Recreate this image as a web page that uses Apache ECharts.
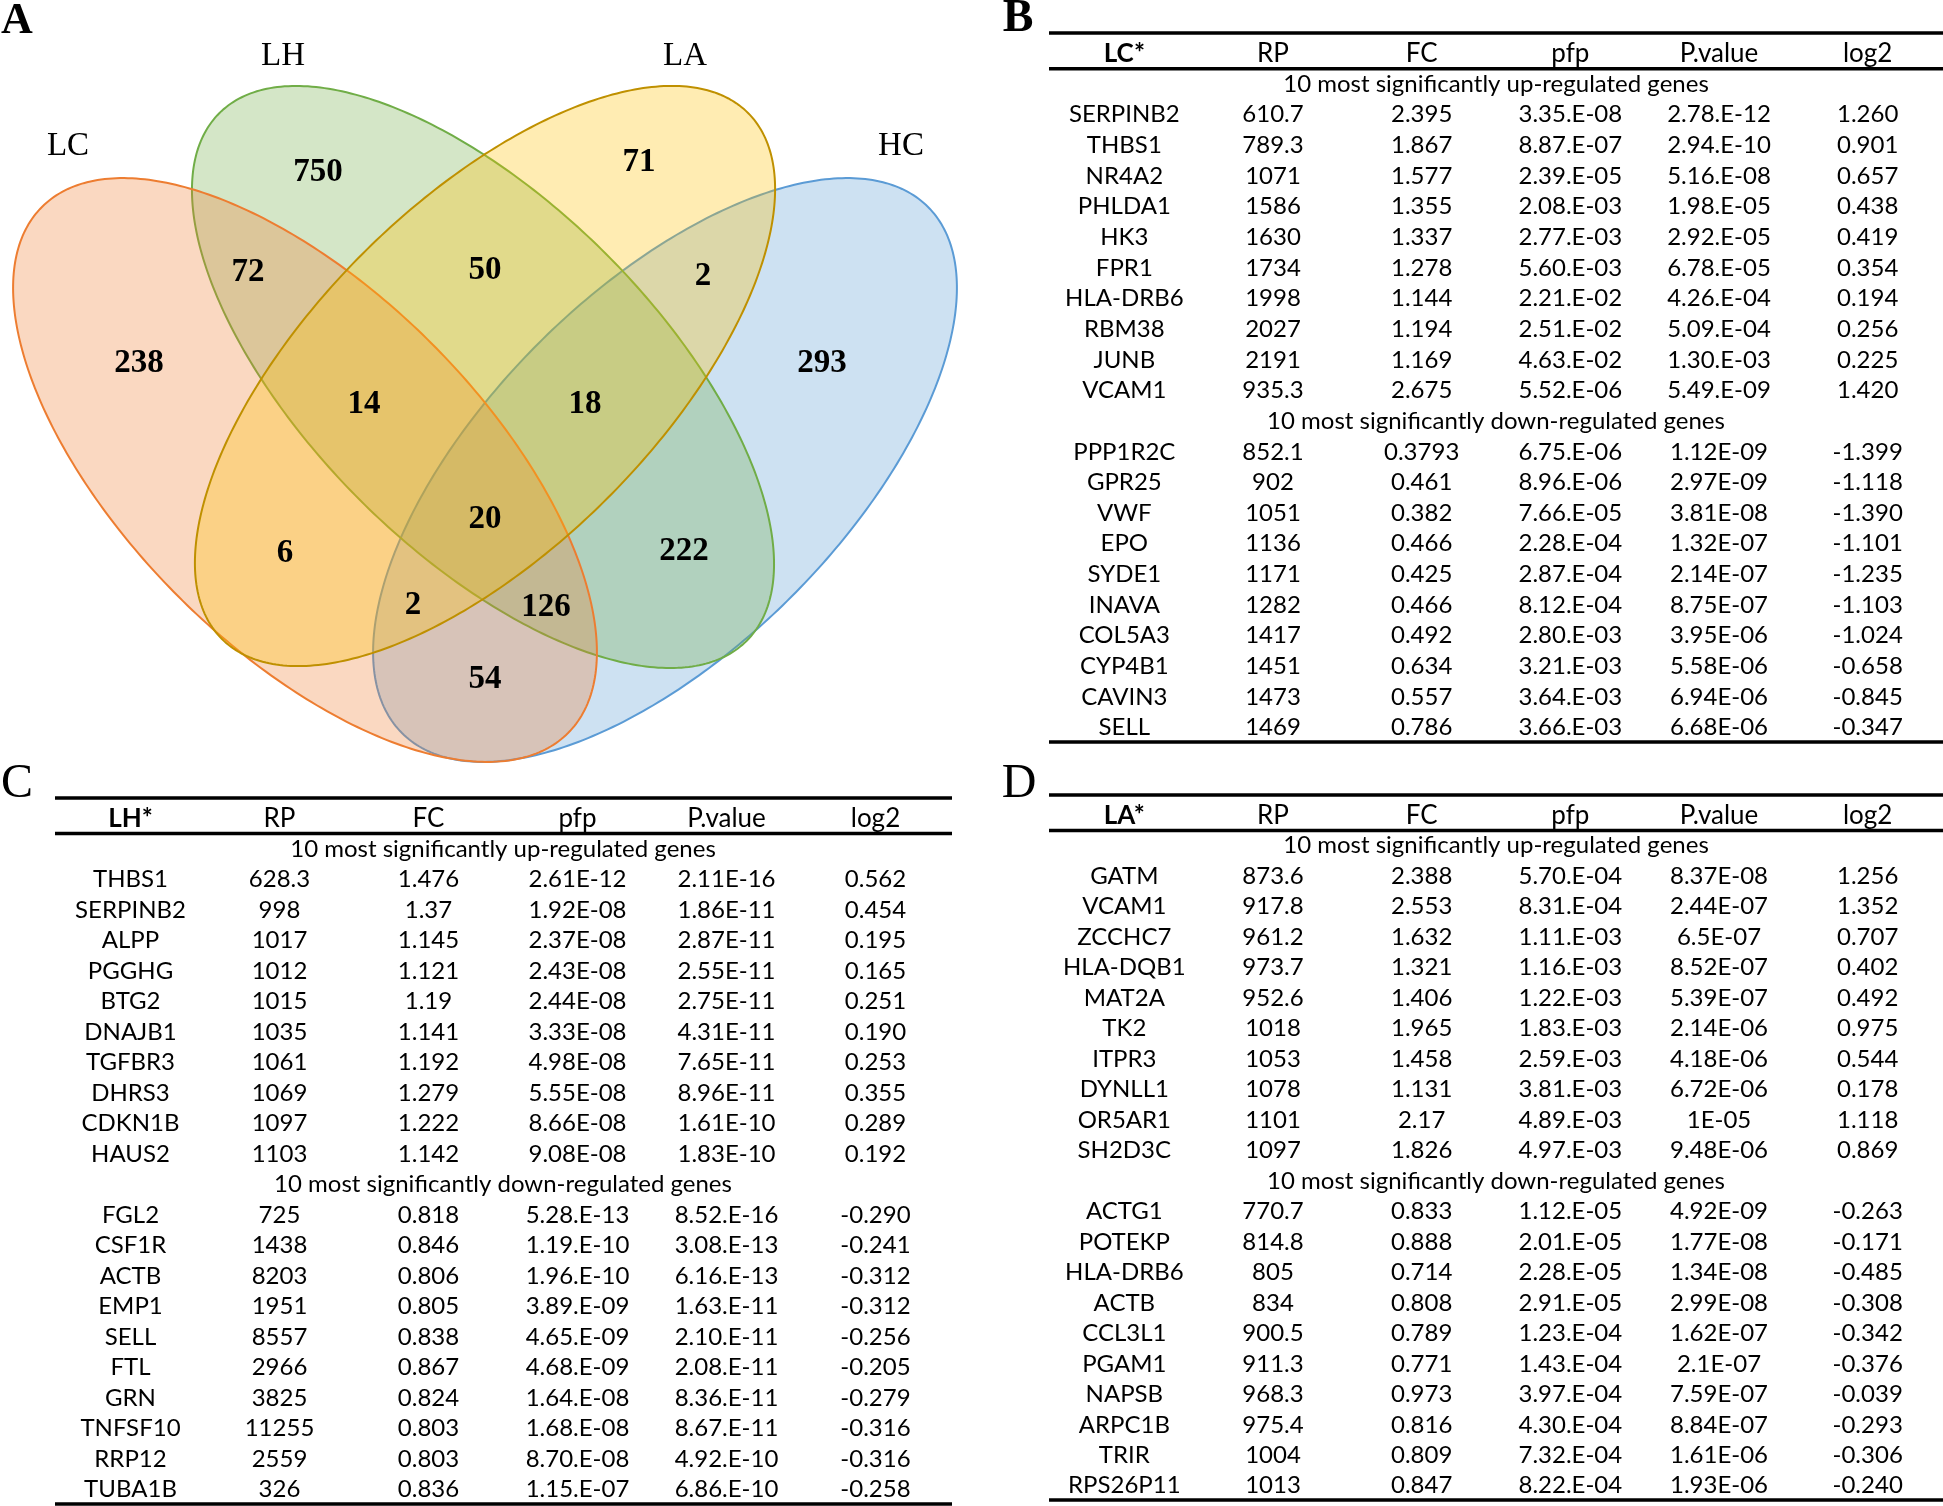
<!DOCTYPE html>
<html>
<head>
<meta charset="utf-8">
<script src="https://cdn.jsdelivr.net/npm/echarts@6/dist/echarts.min.js"></script>
<style>html,body{margin:0;padding:0;background:#fff}#chart{width:1943px;height:1506px}</style>
</head>
<body>
<div id="chart"></div>
<script>
// ================= DATA =================
// Venn diagram (panel A)
const vennSetNames = ['LC', 'LH', 'LA', 'HC'];
const vennRegionKeys = ['LC', 'LH', 'LA', 'HC', 'LC&LH', 'LH&LA', 'LA&HC', 'LC&LH&LA', 'LH&LA&HC',
  'LC&LH&LA&HC', 'LC&LA', 'LH&HC', 'LC&LA&HC', 'LC&LH&HC', 'LC&HC'];
const vennRegionCounts = [238, 750, 71, 293, 72, 50, 2, 14, 18, 20, 6, 222, 2, 126, 54];

// Tables (panels B, C, D)
const tableColumns = ['RP', 'FC', 'pfp', 'P.value', 'log2'];
const upTitle = '10 most significantly up-regulated genes';
const downTitle = '10 most significantly down-regulated genes';

// LC*
const lcGenes = ['SERPINB2', 'THBS1', 'NR4A2', 'PHLDA1', 'HK3', 'FPR1', 'HLA-DRB6', 'RBM38', 'JUNB', 'VCAM1',
  'PPP1R2C', 'GPR25', 'VWF', 'EPO', 'SYDE1', 'INAVA', 'COL5A3', 'CYP4B1', 'CAVIN3', 'SELL'];
const lcRP = ['610.7', '789.3', '1071', '1586', '1630', '1734', '1998', '2027', '2191', '935.3',
  '852.1', '902', '1051', '1136', '1171', '1282', '1417', '1451', '1473', '1469'];
const lcFC = ['2.395', '1.867', '1.577', '1.355', '1.337', '1.278', '1.144', '1.194', '1.169', '2.675',
  '0.3793', '0.461', '0.382', '0.466', '0.425', '0.466', '0.492', '0.634', '0.557', '0.786'];
const lcPfp = ['3.35.E-08', '8.87.E-07', '2.39.E-05', '2.08.E-03', '2.77.E-03', '5.60.E-03', '2.21.E-02', '2.51.E-02', '4.63.E-02', '5.52.E-06',
  '6.75.E-06', '8.96.E-06', '7.66.E-05', '2.28.E-04', '2.87.E-04', '8.12.E-04', '2.80.E-03', '3.21.E-03', '3.64.E-03', '3.66.E-03'];
const lcPval = ['2.78.E-12', '2.94.E-10', '5.16.E-08', '1.98.E-05', '2.92.E-05', '6.78.E-05', '4.26.E-04', '5.09.E-04', '1.30.E-03', '5.49.E-09',
  '1.12E-09', '2.97E-09', '3.81E-08', '1.32E-07', '2.14E-07', '8.75E-07', '3.95E-06', '5.58E-06', '6.94E-06', '6.68E-06'];
const lcLog2 = ['1.260', '0.901', '0.657', '0.438', '0.419', '0.354', '0.194', '0.256', '0.225', '1.420',
  '-1.399', '-1.118', '-1.390', '-1.101', '-1.235', '-1.103', '-1.024', '-0.658', '-0.845', '-0.347'];

// LH*
const lhGenes = ['THBS1', 'SERPINB2', 'ALPP', 'PGGHG', 'BTG2', 'DNAJB1', 'TGFBR3', 'DHRS3', 'CDKN1B', 'HAUS2',
  'FGL2', 'CSF1R', 'ACTB', 'EMP1', 'SELL', 'FTL', 'GRN', 'TNFSF10', 'RRP12', 'TUBA1B'];
const lhRP = ['628.3', '998', '1017', '1012', '1015', '1035', '1061', '1069', '1097', '1103',
  '725', '1438', '8203', '1951', '8557', '2966', '3825', '11255', '2559', '326'];
const lhFC = ['1.476', '1.37', '1.145', '1.121', '1.19', '1.141', '1.192', '1.279', '1.222', '1.142',
  '0.818', '0.846', '0.806', '0.805', '0.838', '0.867', '0.824', '0.803', '0.803', '0.836'];
const lhPfp = ['2.61E-12', '1.92E-08', '2.37E-08', '2.43E-08', '2.44E-08', '3.33E-08', '4.98E-08', '5.55E-08', '8.66E-08', '9.08E-08',
  '5.28.E-13', '1.19.E-10', '1.96.E-10', '3.89.E-09', '4.65.E-09', '4.68.E-09', '1.64.E-08', '1.68.E-08', '8.70.E-08', '1.15.E-07'];
const lhPval = ['2.11E-16', '1.86E-11', '2.87E-11', '2.55E-11', '2.75E-11', '4.31E-11', '7.65E-11', '8.96E-11', '1.61E-10', '1.83E-10',
  '8.52.E-16', '3.08.E-13', '6.16.E-13', '1.63.E-11', '2.10.E-11', '2.08.E-11', '8.36.E-11', '8.67.E-11', '4.92.E-10', '6.86.E-10'];
const lhLog2 = ['0.562', '0.454', '0.195', '0.165', '0.251', '0.190', '0.253', '0.355', '0.289', '0.192',
  '-0.290', '-0.241', '-0.312', '-0.312', '-0.256', '-0.205', '-0.279', '-0.316', '-0.316', '-0.258'];

// LA*
const laGenes = ['GATM', 'VCAM1', 'ZCCHC7', 'HLA-DQB1', 'MAT2A', 'TK2', 'ITPR3', 'DYNLL1', 'OR5AR1', 'SH2D3C',
  'ACTG1', 'POTEKP', 'HLA-DRB6', 'ACTB', 'CCL3L1', 'PGAM1', 'NAPSB', 'ARPC1B', 'TRIR', 'RPS26P11'];
const laRP = ['873.6', '917.8', '961.2', '973.7', '952.6', '1018', '1053', '1078', '1101', '1097',
  '770.7', '814.8', '805', '834', '900.5', '911.3', '968.3', '975.4', '1004', '1013'];
const laFC = ['2.388', '2.553', '1.632', '1.321', '1.406', '1.965', '1.458', '1.131', '2.17', '1.826',
  '0.833', '0.888', '0.714', '0.808', '0.789', '0.771', '0.973', '0.816', '0.809', '0.847'];
const laPfp = ['5.70.E-04', '8.31.E-04', '1.11.E-03', '1.16.E-03', '1.22.E-03', '1.83.E-03', '2.59.E-03', '3.81.E-03', '4.89.E-03', '4.97.E-03',
  '1.12.E-05', '2.01.E-05', '2.28.E-05', '2.91.E-05', '1.23.E-04', '1.43.E-04', '3.97.E-04', '4.30.E-04', '7.32.E-04', '8.22.E-04'];
const laPval = ['8.37E-08', '2.44E-07', '6.5E-07', '8.52E-07', '5.39E-07', '2.14E-06', '4.18E-06', '6.72E-06', '1E-05', '9.48E-06',
  '4.92E-09', '1.77E-08', '1.34E-08', '2.99E-08', '1.62E-07', '2.1E-07', '7.59E-07', '8.84E-07', '1.61E-06', '1.93E-06'];
const laLog2 = ['1.256', '1.352', '0.707', '0.402', '0.492', '0.975', '0.544', '0.178', '1.118', '0.869',
  '-0.263', '-0.171', '-0.485', '-0.308', '-0.342', '-0.376', '-0.039', '-0.293', '-0.306', '-0.240'];

// ================= LAYOUT / STYLE =================
const VENN = {
  grid: { left: 0, top: 0, width: 1000, height: 1000 },
  // ellipse geometry in venn unit space (x right, y up)
  ellipses: {
    LC: { cx: 0.305, cy: 0.530, a: 0.372, b: 0.179, ang: -45, fill: 'rgba(237,125,49,0.30)', stroke: '#ED7D31' },
    LH: { cx: 0.483, cy: 0.623, a: 0.373, b: 0.174, ang: -45, fill: 'rgba(112,173,71,0.30)', stroke: '#70AD47' },
    LA: { cx: 0.485, cy: 0.624, a: 0.372, b: 0.173, ang: 45, fill: 'rgba(255,192,0,0.30)', stroke: '#BF9000' },
    HC: { cx: 0.665, cy: 0.530, a: 0.372, b: 0.179, ang: 45, fill: 'rgba(91,155,213,0.30)', stroke: '#5B9BD5' }
  },
  drawOrder: ['HC', 'LH', 'LC', 'LA'],
  regionLabelPos: {
    'LC': [0.139, 0.637], 'LH': [0.318, 0.828], 'LA': [0.639, 0.838], 'HC': [0.822, 0.637],
    'LC&LH': [0.248, 0.728], 'LH&LA': [0.485, 0.730], 'LA&HC': [0.703, 0.724],
    'LC&LH&LA': [0.364, 0.596], 'LH&LA&HC': [0.585, 0.596], 'LC&LH&LA&HC': [0.485, 0.481],
    'LC&LA': [0.285, 0.447], 'LH&HC': [0.684, 0.449], 'LC&LA&HC': [0.413, 0.395],
    'LC&LH&HC': [0.546, 0.393], 'LC&HC': [0.485, 0.321]
  },
  setLabelPos: { LC: [0.068, 0.854], LH: [0.283, 0.944], LA: [0.685, 0.944], HC: [0.901, 0.854] },
  countFont: 'bold 33px "Liberation Serif", "Times New Roman", serif',
  setFont: '33px "Liberation Serif", "Times New Roman", serif'
};

const TABLE_FONT = '24px Lato, "Open Sans", sans-serif';
const TABLE_HEAD_FONT = '26px Lato, "Open Sans", sans-serif';
const TABLE_HEAD_FONT_BOLD = 'bold 26px Lato, "Open Sans", sans-serif';
const NROWS = 23;

const tables = [
  { title: 'LC*', genes: lcGenes, cols: [lcRP, lcFC, lcPfp, lcPval, lcLog2], grid: { left: 1050, top: 38, width: 892, height: 705 } },
  { title: 'LH*', genes: lhGenes, cols: [lhRP, lhFC, lhPfp, lhPval, lhLog2], grid: { left: 56, top: 803, width: 894, height: 702 } },
  { title: 'LA*', genes: laGenes, cols: [laRP, laFC, laPfp, laPval, laLog2], grid: { left: 1050, top: 800, width: 892, height: 701 } }
];

const panelLetters = [
  { t: 'A', x: 17, y: 22, font: 'bold 44px "Liberation Serif", serif' },
  { t: 'B', x: 1018, y: 19, font: 'bold 46px "Liberation Serif", serif' },
  { t: 'C', x: 17, y: 784, font: '48px "Liberation Serif", serif' },
  { t: 'D', x: 1019, y: 784, font: '48px "Liberation Serif", serif' }
];

// ================= BUILD =================
function buildCells(tb) {
  const cells = [];
  cells.push({ col: 0, row: 0, text: tb.title, font: TABLE_HEAD_FONT_BOLD });
  tableColumns.forEach((c, j) => cells.push({ col: j + 1, row: 0, text: c, font: TABLE_HEAD_FONT }));
  cells.push({ col: 0, row: 1, text: upTitle, span: true });
  cells.push({ col: 0, row: 12, text: downTitle, span: true });
  tb.genes.forEach((g, i) => {
    const row = i < 10 ? 2 + i : 13 + (i - 10);
    cells.push({ col: 0, row, text: g });
    tb.cols.forEach((arr, j) => cells.push({ col: j + 1, row, text: arr[i] }));
  });
  return cells;
}

const grids = [VENN.grid];
const xAxes = [{ type: 'value', min: 0, max: 1, show: false, gridIndex: 0 }];
const yAxes = [{ type: 'value', min: 0, max: 1, show: false, gridIndex: 0 }];
const series = [];

// Venn ellipses
series.push({
  type: 'custom', coordinateSystem: 'cartesian2d', xAxisIndex: 0, yAxisIndex: 0, z: 1, silent: true,
  data: VENN.drawOrder.map(k => ({ name: k, value: [0.5, 0.5] })),
  renderItem: function (params, api) {
    const e = VENN.ellipses[VENN.drawOrder[params.dataIndex]];
    const phi = e.ang * Math.PI / 180, pts = [];
    for (let k = 0; k < 360; k++) {
      const t = k * Math.PI / 180;
      const x = e.cx + e.a * Math.cos(t) * Math.cos(phi) - e.b * Math.sin(t) * Math.sin(phi);
      const y = e.cy + e.a * Math.cos(t) * Math.sin(phi) + e.b * Math.sin(t) * Math.cos(phi);
      pts.push(api.coord([x, y]));
    }
    return { type: 'polygon', shape: { points: pts }, style: { fill: e.fill, stroke: e.stroke, lineWidth: 2 } };
  }
});

// Venn counts
series.push({
  type: 'custom', coordinateSystem: 'cartesian2d', xAxisIndex: 0, yAxisIndex: 0, z: 5, silent: true,
  data: vennRegionKeys.map((k, i) => ({ name: k, value: VENN.regionLabelPos[k].concat([vennRegionCounts[i]]) })),
  renderItem: function (params, api) {
    const k = vennRegionKeys[params.dataIndex];
    const p = api.coord(VENN.regionLabelPos[k]);
    return { type: 'text', style: { x: p[0], y: p[1], text: String(vennRegionCounts[params.dataIndex]), font: VENN.countFont, fill: '#000', textAlign: 'center', textVerticalAlign: 'middle' } };
  }
});

// Venn set names
series.push({
  type: 'custom', coordinateSystem: 'cartesian2d', xAxisIndex: 0, yAxisIndex: 0, z: 5, silent: true,
  data: vennSetNames.map(k => ({ name: k, value: VENN.setLabelPos[k] })),
  renderItem: function (params, api) {
    const k = vennSetNames[params.dataIndex];
    const p = api.coord(VENN.setLabelPos[k]);
    return { type: 'text', style: { x: p[0], y: p[1], text: k, font: VENN.setFont, fill: '#000', textAlign: 'center', textVerticalAlign: 'middle' } };
  }
});

// Tables
tables.forEach((tb, ti) => {
  const gi = ti + 1;
  grids.push(tb.grid);
  xAxes.push({ type: 'category', gridIndex: gi, show: false, data: ['0', '1', '2', '3', '4', '5'] });
  yAxes.push({ type: 'category', gridIndex: gi, show: false, inverse: true, data: Array.from({ length: NROWS }, (_, i) => String(i)) });
  const cells = buildCells(tb);
  series.push({
    type: 'custom', coordinateSystem: 'cartesian2d', xAxisIndex: gi, yAxisIndex: gi, z: 3, silent: true,
    data: cells.map(c => [c.col, c.row]),
    renderItem: function (params, api) {
      const c = cells[params.dataIndex];
      const p = api.coord([c.col, c.row]);
      let x = p[0];
      if (c.span) x = (api.coord([0, c.row])[0] + api.coord([5, c.row])[0]) / 2;
      return { type: 'text', style: { x: x, y: p[1], text: c.text, font: c.font || TABLE_FONT, fill: '#000', textAlign: 'center', textVerticalAlign: 'middle' } };
    }
  });
  // table rules (top, below header, bottom)
  series.push({
    type: 'custom', coordinateSystem: 'cartesian2d', xAxisIndex: gi, yAxisIndex: gi, z: 3, silent: true,
    data: [[0, 0]],
    renderItem: function (params, api) {
      const cs = params.coordSys;
      const band = cs.height / NROWS;
      const x1 = cs.x - 1, x2 = cs.x + cs.width + 2;
      const ys = [cs.y - 5, cs.y + band, cs.y + cs.height - 1];
      return { type: 'group', children: ys.map(y => ({ type: 'line', shape: { x1: x1, y1: y, x2: x2, y2: y }, style: { stroke: '#000', lineWidth: 3.5 } })) };
    }
  });
});

const chart = echarts.init(document.getElementById('chart'), null, { renderer: 'canvas' });
chart.setOption({
  animation: false,
  backgroundColor: '#fff',
  grid: grids,
  xAxis: xAxes,
  yAxis: yAxes,
  graphic: panelLetters.map(p => ({ type: 'text', style: { x: p.x, y: p.y, text: p.t, font: p.font, fill: '#000', textAlign: 'center', textVerticalAlign: 'middle' }, z: 10 })),
  series: series
});
</script>
</body>
</html>
